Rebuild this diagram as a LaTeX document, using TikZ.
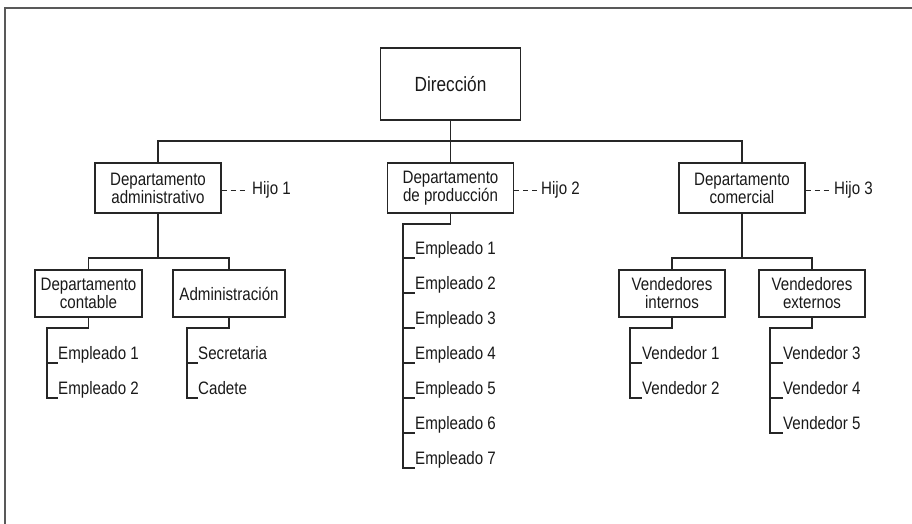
\documentclass[tikz,border=0pt]{standalone}
\usepackage{fontspec}
\setmainfont{Liberation Sans}[FakeStretch=0.84]
\begin{document}
\begin{tikzpicture}[x=1pt,y=-1pt,
  every node/.style={text=black!90},
  ln/.style={draw=black!85,line width=1.1pt},
  box/.style={draw=black!85,line width=1.1pt,align=center,inner sep=0pt,font=\fontsize{18}{18}\selectfont},
  item/.style={anchor=south west,inner sep=0pt,text height=13pt,text depth=3.5pt,font=\fontsize{18}{18}\selectfont},
  hijo/.style={anchor=west,inner sep=0pt,font=\fontsize{18}{18}\selectfont},
  dsh/.style={draw=black!85,line width=1pt,dash pattern=on 5pt off 4pt}]
\useasboundingbox (0,0) rectangle (912,524);
% frame (top and left)
\draw[draw=black!65,line width=1.6pt] (5,524) -- (5,8) -- (912,8);

% boxes
\node[box,minimum width=140pt,minimum height=72pt,font=\fontsize{20.5}{22}\selectfont] (dir) at (450.5,84) {Dirección};
\node[box,minimum width=126pt,minimum height=50pt] (adm) at (158,188) {Departamento\\administrativo};
\node[box,minimum width=126pt,minimum height=50pt] (prod) at (450.5,188) {Departamento\\de producción};
\node[box,minimum width=126pt,minimum height=50pt] (com) at (742,188) {Departamento\\comercial};
\node[box,minimum width=107pt,minimum height=47pt] (cont) at (88.5,293.5) {Departamento\\contable};
\node[box,minimum width=112pt,minimum height=47pt] (admin) at (229,293.5) {Administración};
\node[box,minimum width=106pt,minimum height=47pt] (vint) at (672,293.5) {Vendedores\\internos};
\node[box,minimum width=106pt,minimum height=47pt] (vext) at (812,293.5) {Vendedores\\externos};

% Hijo labels
\node[hijo] (h1) at (252,190) {Hijo 1};
\node[hijo] (h2) at (541,190) {Hijo 2};
\node[hijo] (h3) at (834,190) {Hijo 3};
\draw[dsh] (adm.east |- h1.west) -- ([xshift=-4pt]h1.west);
\draw[dsh] (prod.east |- h2.west) -- ([xshift=-4pt]h2.west);
\draw[dsh] (com.east |- h3.west) -- ([xshift=-4pt]h3.west);

% main bus
\coordinate (bus) at (450.5,141);
\draw[ln] (dir.south) -- (prod.north);
\draw[ln] (adm.north) |- (bus) -| (com.north);

% sub buses
\coordinate (sb1) at (158,258);
\draw[ln] (adm.south) -- (sb1);
\draw[ln] (cont.north) |- (sb1) -| (admin.north);
\coordinate (sb3) at (742,258);
\draw[ln] (com.south) -- (sb3);
\draw[ln] (vint.north) |- (sb3) -| (vext.north);

% list: contable
\node[item] (c1) at (58,363) {Empleado 1};
\node[item] (c2) at (58,398) {Empleado 2};
\coordinate (cj) at (47,328);
\draw[ln] (cont.south) |- (cj) -- (cj |- c2.south west) -- (c2.south west);
\draw[ln] (cj |- c1.south west) -- (c1.south west);

% list: administracion
\node[item] (a1) at (198,363) {Secretaria};
\node[item] (a2) at (198,398) {Cadete};
\coordinate (aj) at (187,328);
\draw[ln] (admin.south) |- (aj) -- (aj |- a2.south west) -- (a2.south west);
\draw[ln] (aj |- a1.south west) -- (a1.south west);

% list: produccion
\node[item] (p1) at (415,258) {Empleado 1};
\node[item] (p2) at (415,293) {Empleado 2};
\node[item] (p3) at (415,328) {Empleado 3};
\node[item] (p4) at (415,363) {Empleado 4};
\node[item] (p5) at (415,398) {Empleado 5};
\node[item] (p6) at (415,433) {Empleado 6};
\node[item] (p7) at (415,468) {Empleado 7};
\coordinate (pj) at (403,224);
\draw[ln] (prod.south) |- (pj) -- (pj |- p7.south west) -- (p7.south west);
\foreach \i in {1,...,6} \draw[ln] (pj |- p\i.south west) -- (p\i.south west);

% list: vendedores internos
\node[item] (i1) at (642,363) {Vendedor 1};
\node[item] (i2) at (642,398) {Vendedor 2};
\coordinate (ij) at (630,328);
\draw[ln] (vint.south) |- (ij) -- (ij |- i2.south west) -- (i2.south west);
\draw[ln] (ij |- i1.south west) -- (i1.south west);

% list: vendedores externos
\node[item] (x1) at (783,363) {Vendedor 3};
\node[item] (x2) at (783,398) {Vendedor 4};
\node[item] (x3) at (783,433) {Vendedor 5};
\coordinate (xj) at (770,328);
\draw[ln] (vext.south) |- (xj) -- (xj |- x3.south west) -- (x3.south west);
\draw[ln] (xj |- x1.south west) -- (x1.south west);
\draw[ln] (xj |- x2.south west) -- (x2.south west);
\end{tikzpicture}
\end{document}
